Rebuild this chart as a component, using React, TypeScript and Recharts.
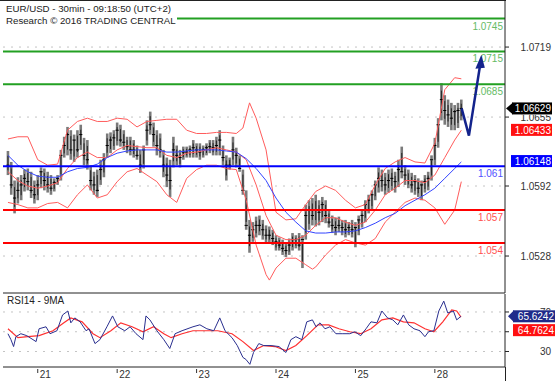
import React from "react";
import { ComposedChart, Bar, Line, XAxis, YAxis, CartesianGrid, ReferenceLine } from "recharts";

const FONT = '"Liberation Sans", Arial, sans-serif';

// hourly bars, index 0 = afternoon of the 20th
const highs = [
  1.0624, 1.0614, 1.0597, 1.06, 1.0602, 1.0607, 1.0608, 1.0605, 1.0597, 1.0602,
  1.0609, 1.0608, 1.0605, 1.0602, 1.0599, 1.0602, 1.0625, 1.0637, 1.0646, 1.0643,
  1.0639, 1.0643, 1.0648, 1.0636, 1.0634, 1.0611, 1.0605, 1.0607, 1.0616, 1.0622,
  1.064, 1.0641, 1.0643, 1.065, 1.0648, 1.0643, 1.0637, 1.0637, 1.0634, 1.0629,
  1.0625, 1.0629, 1.0652, 1.066, 1.065, 1.0643, 1.064, 1.0625, 1.0618, 1.0616,
  1.0637, 1.0629, 1.0625, 1.0628, 1.0628, 1.0629, 1.0634, 1.0631, 1.0631, 1.0629,
  1.0631, 1.0634, 1.0634, 1.0637, 1.0643, 1.0629, 1.062, 1.0618, 1.0637, 1.0627,
  1.062, 1.0607, 1.0588, 1.0561, 1.0559, 1.0564, 1.0565, 1.0561, 1.0556, 1.0555,
  1.0552, 1.0547, 1.0545, 1.0543, 1.054, 1.0544, 1.0549, 1.0547, 1.0549, 1.0547,
  1.0575, 1.0579, 1.0581, 1.0584, 1.0579, 1.0582, 1.0579, 1.057, 1.0565, 1.0563,
  1.0564, 1.0561, 1.0561, 1.0559, 1.0561, 1.0559, 1.0565, 1.057, 1.0579, 1.0584,
  1.0588, 1.0597, 1.0609, 1.0607, 1.0604, 1.0607, 1.0608, 1.0605, 1.0616, 1.0628,
  1.0611, 1.0607, 1.0604, 1.0602, 1.0599, 1.0597, 1.0602, 1.0605, 1.062, 1.0636,
  1.0654, 1.0686, 1.0675, 1.0671, 1.0668, 1.0666, 1.0668, 1.0671,
];
const lows = [
  1.0602, 1.0584, 1.0567, 1.0576, 1.0579, 1.0587, 1.0588, 1.0581, 1.0576, 1.0579,
  1.059, 1.0588, 1.0586, 1.0584, 1.0587, 1.0593, 1.0597, 1.0618, 1.062, 1.0616,
  1.0614, 1.0618, 1.0625, 1.0611, 1.0607, 1.0588, 1.0584, 1.0582, 1.0593, 1.06,
  1.0618, 1.0622, 1.0625, 1.0629, 1.0628, 1.0625, 1.0622, 1.062, 1.0618, 1.0616,
  1.0604, 1.0608, 1.0629, 1.0639, 1.0628, 1.062, 1.0618, 1.06, 1.0591, 1.0582,
  1.0609, 1.0611, 1.0609, 1.0616, 1.0618, 1.0618, 1.0618, 1.0618, 1.0616, 1.0618,
  1.062, 1.0622, 1.062, 1.062, 1.062, 1.0611, 1.0597, 1.0607, 1.0611, 1.0609,
  1.0605, 1.0584, 1.0552, 1.0531, 1.0541, 1.0545, 1.0547, 1.0543, 1.054, 1.054,
  1.0538, 1.0533, 1.0533, 1.0529, 1.0527, 1.0529, 1.0533, 1.0535, 1.0533, 1.0517,
  1.0543, 1.0552, 1.0556, 1.0555, 1.0556, 1.0559, 1.0558, 1.0554, 1.0549, 1.0547,
  1.055, 1.0547, 1.0545, 1.0547, 1.0545, 1.0536, 1.0547, 1.0554, 1.0559, 1.0567,
  1.057, 1.0579, 1.0586, 1.0587, 1.0584, 1.0586, 1.0588, 1.0586, 1.0591, 1.0599,
  1.0593, 1.059, 1.0586, 1.0584, 1.0582, 1.0579, 1.0586, 1.0588, 1.0597, 1.0611,
  1.0627, 1.0652, 1.0648, 1.0646, 1.0643, 1.0643, 1.0645, 1.0652,
];
const closes = [
  1.0611, 1.0593, 1.0581, 1.0588, 1.0593, 1.0599, 1.0596, 1.0588, 1.0584, 1.0593,
  1.0605, 1.0597, 1.0593, 1.059, 1.0595, 1.0599, 1.062, 1.0629, 1.0639, 1.0625,
  1.0634, 1.0625, 1.0639, 1.062, 1.0616, 1.0597, 1.0593, 1.0588, 1.0607, 1.0616,
  1.0629, 1.0634, 1.0636, 1.0643, 1.0634, 1.0632, 1.0628, 1.0625, 1.0625, 1.062,
  1.0611, 1.0625, 1.0643, 1.0648, 1.0639, 1.0629, 1.0625, 1.0611, 1.0602, 1.0597,
  1.0625, 1.062, 1.0618, 1.0623, 1.0623, 1.0625, 1.0627, 1.0625, 1.0623, 1.0625,
  1.0627, 1.0628, 1.0627, 1.0629, 1.0634, 1.0618, 1.0611, 1.0611, 1.0625, 1.062,
  1.0608, 1.0588, 1.0556, 1.0547, 1.0552, 1.0556, 1.0556, 1.0552, 1.0547, 1.0547,
  1.0544, 1.0541, 1.0538, 1.0535, 1.0533, 1.0538, 1.0543, 1.0543, 1.0538, 1.0543,
  1.0565, 1.057, 1.0565, 1.057, 1.0568, 1.0575, 1.0565, 1.0559, 1.0556, 1.0554,
  1.0556, 1.0554, 1.0552, 1.0554, 1.0552, 1.0554, 1.0561, 1.0565, 1.0575, 1.0579,
  1.0584, 1.0593, 1.0599, 1.0597, 1.0593, 1.0597, 1.0599, 1.0596, 1.0607, 1.0605,
  1.0602, 1.0597, 1.0593, 1.0596, 1.059, 1.0593, 1.0596, 1.0599, 1.0616, 1.0629,
  1.0648, 1.0671, 1.0661, 1.0657, 1.0654, 1.066, 1.0661, 1.06629,
];

const dayTicks = [9, 33, 57, 81, 105, 129];
const dayLabels = ["21", "22", "23", "24", "25", "28"];

const priceTicks = [1.0719, 1.0655, 1.0592, 1.0528];
const resistances = [1.0745, 1.0715, 1.0685];
const pivot = 1.061;
const supports = [1.057, 1.054];

// Bollinger bands and moving average, [bar index, price]
const upperBand: [number, number][] = [
  [0, 1.0635], [3, 1.0637], [6, 1.0637], [9, 1.0616], [12, 1.0611], [15, 1.0612], [18, 1.0643],
  [21, 1.0651], [24, 1.0654], [27, 1.0651], [30, 1.0651], [33, 1.0654], [36, 1.0653], [39, 1.0646],
  [42, 1.0651], [45, 1.0652], [48, 1.0653], [51, 1.0653], [54, 1.0643], [57, 1.064], [60, 1.064],
  [63, 1.0641], [66, 1.0641], [69, 1.064], [71, 1.0645], [73, 1.0668], [75, 1.0654], [78, 1.0625],
  [81, 1.0568], [84, 1.0561], [87, 1.0562], [90, 1.0575], [93, 1.0587], [96, 1.0592], [99, 1.0588],
  [102, 1.0579], [105, 1.0572], [108, 1.0575], [111, 1.0593], [114, 1.0608], [117, 1.0614],
  [120, 1.0618], [123, 1.0614], [126, 1.0613], [129, 1.0631], [132, 1.068], [135, 1.0691], [137, 1.069],
];
const midBand: [number, number][] = [
  [0, 1.0605], [3, 1.0597], [6, 1.0592], [9, 1.059], [12, 1.0592], [15, 1.0595], [18, 1.0608],
  [21, 1.0618], [24, 1.0623], [27, 1.0618], [30, 1.0618], [33, 1.0625], [36, 1.0629], [39, 1.0628],
  [42, 1.0627], [45, 1.0627], [48, 1.062], [51, 1.0618], [54, 1.0622], [57, 1.0623], [60, 1.0625],
  [63, 1.0627], [66, 1.0625], [69, 1.0623], [72, 1.0616], [75, 1.0593], [78, 1.0565], [81, 1.0547],
  [84, 1.0543], [87, 1.0543], [90, 1.0547], [93, 1.0556], [96, 1.0563], [99, 1.0563], [102, 1.0559],
  [105, 1.0556], [108, 1.0559], [111, 1.057], [114, 1.0584], [117, 1.059], [120, 1.0597],
  [123, 1.0597], [126, 1.0595], [129, 1.0602], [132, 1.0618], [135, 1.0634], [137, 1.0643],
];
const lowerBand: [number, number][] = [
  [0, 1.0577], [3, 1.0575], [6, 1.0572], [9, 1.0572], [12, 1.0576], [15, 1.0577], [18, 1.0572],
  [21, 1.0584], [24, 1.0593], [27, 1.0581], [30, 1.0584], [33, 1.0596], [36, 1.0605], [39, 1.0608],
  [42, 1.0602], [45, 1.0596], [48, 1.0584], [51, 1.0577], [54, 1.0599], [57, 1.0607], [60, 1.0611],
  [63, 1.0611], [66, 1.0608], [69, 1.0607], [72, 1.0579], [75, 1.0538], [78, 1.0511], [79, 1.0506],
  [81, 1.0517], [84, 1.0526], [87, 1.0526], [90, 1.052], [92, 1.0516], [93, 1.0518], [96, 1.0529],
  [99, 1.0538], [102, 1.0543], [105, 1.054], [108, 1.0538], [111, 1.0544], [114, 1.0559],
  [117, 1.0568], [120, 1.0577], [123, 1.0581], [126, 1.0579], [129, 1.0572], [132, 1.0557],
  [135, 1.057], [137, 1.0596],
];
const blueMa: [number, number][] = [
  [0, 1.062], [3, 1.0611], [6, 1.0605], [9, 1.0601], [12, 1.06], [15, 1.06], [18, 1.0605],
  [21, 1.0608], [24, 1.0609], [27, 1.0612], [30, 1.0618], [33, 1.0622], [36, 1.0624], [39, 1.0625],
  [42, 1.0625], [45, 1.0625], [48, 1.0623], [51, 1.0623], [54, 1.0624], [57, 1.0625], [60, 1.0625],
  [63, 1.0625], [66, 1.0624], [69, 1.0623], [72, 1.0617], [75, 1.0608], [78, 1.0597], [81, 1.0581],
  [84, 1.0568], [87, 1.0559], [90, 1.0551], [93, 1.0549], [96, 1.0549], [99, 1.055], [102, 1.055],
  [105, 1.0551], [108, 1.0554], [111, 1.0558], [114, 1.0563], [117, 1.0567], [120, 1.0574],
  [123, 1.0579], [126, 1.0584], [129, 1.059], [132, 1.0599], [135, 1.0608], [137, 1.0614],
];

const forecast: [number, number][] = [[137.1, 1.0663], [139.3, 1.0638], [142.6, 1.0701]];

const lastPrice = 1.06629;
const bbMidLast = 1.06433;
const maLast = 1.06148;

// RSI(14) and its 9-period average
const rsi14: [number, number][] = [
  [0, 48], [0.9, 42], [1.7, 35], [2.4, 45], [3.9, 48], [5.7, 46], [8.5, 40], [9.4, 53], [11.5, 55],
  [12.7, 48], [14.8, 51], [16.5, 67], [18.1, 71], [19, 59], [20.2, 64], [21.8, 60], [23.6, 51],
  [24.5, 53], [26.3, 38], [27.8, 42], [29.9, 55], [31.6, 66], [33.2, 55], [35.3, 51], [36.9, 55],
  [38.7, 48], [40.8, 42], [41.7, 66], [42.9, 62], [45, 51], [47.1, 42], [48.9, 33], [50.5, 48],
  [52.6, 51], [55.9, 55], [58, 57], [60.1, 53], [62.2, 51], [64, 64], [65.6, 51], [67.7, 44],
  [69.3, 36], [71, 24], [71.9, 22], [73.1, 17], [74.2, 29], [75.8, 38], [77.3, 36], [79.5, 36],
  [81.9, 35], [84, 29], [85.5, 42], [87, 45], [88.8, 42], [90.3, 60], [92, 62], [93.1, 55],
  [94.3, 59], [95.8, 53], [97.3, 55], [99.1, 48], [101.2, 48], [103.3, 48], [104.8, 50],
  [106.6, 46], [108.2, 53], [109.7, 60], [111.5, 59], [113, 71], [114.7, 64], [116.3, 62],
  [117.8, 57], [119.5, 67], [121.1, 57], [122.7, 53], [124.5, 51], [126, 45], [127.1, 50],
  [128.7, 51], [130.2, 71], [131.7, 81], [132.9, 69], [134.6, 71], [135.6, 62], [136.9, 65.6],
];
const rsiMa9: [number, number][] = [
  [0, 53], [3, 44], [6, 45], [9.4, 46], [13.6, 51], [16.9, 59], [19, 64], [22.4, 60], [25.7, 48],
  [27.8, 44], [31.1, 51], [34.1, 59], [37.5, 55], [40.8, 50], [44, 55], [47.1, 48], [49.3, 44],
  [52.6, 48], [55.9, 51], [60.1, 51], [63.4, 51], [67.7, 48], [71, 40], [74.2, 31], [77.3, 36],
  [80.7, 35], [84, 31], [87, 36], [90.3, 46], [93.7, 57], [96.9, 57], [100, 53], [103.3, 50],
  [106.6, 48], [109.7, 53], [113, 62], [116.3, 64], [119.5, 60], [122.7, 59], [126, 53],
  [128.7, 50], [131.4, 60], [134.1, 72], [135.6, 71], [136.9, 64.8],
];
const rsiTicks = [30, 50, 70];
const rsiLast = 65.6242;
const rsiMaLast = 64.7624;

const X_DOMAIN: [number, number] = [-1.5, 150.2];

const bars = highs.map((hi, i) => ({ i, hi, lo: lows[i], cl: closes[i] }));
const pts = (a: [number, number][]) => a.map(([i, v]) => ({ i, v }));

const OhlcBar = (p: any) => {
  const { x, y, width, height, payload } = p;
  if (height == null || isNaN(y)) return <g />;
  const cx = x + width / 2;
  const h = Math.max(height, 1);
  const cy = y + ((payload.hi - payload.cl) / (payload.hi - payload.lo || 1)) * h;
  return (
    <g>
      <rect x={cx - 1.3} y={y} width={2.6} height={h} fill="#7a7a7a" />
      <line x1={cx} x2={cx} y1={y + h * 0.2} y2={y + h * 0.8} stroke="#111" strokeWidth={0.8} />
      <line x1={cx - 1.6} x2={cx + 1.6} y1={cy} y2={cy} stroke="#000" strokeWidth={1} />
    </g>
  );
};

// labels that the value boxes partly cover in the original are clipped
const PriceTick = ({ x, y, payload }: any) => {
  const v = payload.value;
  const id = `pc${String(v).replace(".", "")}`;
  const covered = v === 1.0655;
  return (
    <g>
      {covered && (
        <clipPath id={id}>
          <rect x={x} y={y - 2.4} width={60} height={20} />
        </clipPath>
      )}
      <text x={x + 42} y={y + 4} textAnchor="end" fontSize={10} fill="#333" fontFamily={FONT}
        clipPath={covered ? `url(#${id})` : undefined}>
        {v.toFixed(4)}
      </text>
    </g>
  );
};

const RsiTick = ({ x, y, payload }: any) => {
  const v = payload.value;
  if (v === 50) return <g />;
  const id = `rc${v}`;
  const covered = v === 70;
  return (
    <g>
      {covered && (
        <clipPath id={id}>
          <rect x={x} y={y - 20} width={60} height={18.3} />
        </clipPath>
      )}
      <text x={x + 42} y={y + 4} textAnchor="end" fontSize={10} fill="#333" fontFamily={FONT}
        clipPath={covered ? `url(#${id})` : undefined}>
        {v}
      </text>
    </g>
  );
};

const DayTick = ({ x, y, payload }: any) => (
  <g>
    <line x1={x} x2={x} y1={y + 2} y2={y + 6} stroke="#333" />
    <text x={x + 2} y={y + 11} fontSize={10} fill="#333" fontFamily={FONT}>
      {dayLabels[dayTicks.indexOf(payload.value)]}
    </text>
  </g>
);

const levelLabel = (text: string, color: string) => (props: any) => {
  const { x, y, width } = props.viewBox;
  return (
    <text x={x + width - 2} y={y + 11} textAnchor="end" fontSize={10} fill={color} fontFamily={FONT}>
      {text}
    </text>
  );
};

const valueBox = (text: string, bg: string, pointer: boolean, dy = 0, wide = false) => (props: any) => {
  const { x, y, width } = props.viewBox;
  const r = x + width;
  const cy = y + dy;
  const left = wide ? r + 8 : pointer ? r + 7 : r + 6;
  const right = wide ? r + 50 : r + 47;
  return (
    <g>
      {pointer && <path d={`M${r + (wide ? 3 : 1)},${cy} L${left + 1},${cy - 6} L${left + 1},${cy + 6} Z`} fill={bg} />}
      <rect x={left} y={cy - 6} width={right - left} height={12} fill={bg} />
      <text x={right - 1} y={cy + 4} textAnchor="end" fontSize={10} fill="#fff" fontFamily={FONT}>
        {text}
      </text>
    </g>
  );
};

const arrowHead = (p: any) => {
  if (p.index !== forecast.length - 1) return <g key={`a${p.index}`} />;
  const { cx, cy } = p;
  return <path key="head" d={`M${cx - 4.5},${cy + 2} L${cx + 1.5},${cy - 12} L${cx + 5},${cy + 1} Z`} fill="#13238c" />;
};

export default function App() {
  return (
    <div style={{ position: "absolute", left: 0, top: 0, width: 557, height: 381, background: "#fff", fontFamily: FONT, overflow: "hidden" }}>
      <div style={{ position: "absolute", left: 0, top: 0 }}>
        <ComposedChart width={557} height={294} data={bars} margin={{ top: 1, right: 0, bottom: 0, left: 3 }}>
          <XAxis dataKey="i" type="number" domain={X_DOMAIN} allowDataOverflow height={1} tick={false} tickLine={false} axisLine={{ stroke: "#222" }} />
          <YAxis orientation="right" width={52} domain={[1.04942, 1.07611]} allowDataOverflow ticks={priceTicks} interval={0}
            tickSize={4} tickMargin={0} tickLine={{ stroke: "#222" }} axisLine={{ stroke: "#222" }} tick={<PriceTick />} />
          <CartesianGrid vertical={false} horizontalValues={priceTicks} stroke="#c4c4c4" strokeDasharray="2 6" />
          <Bar dataKey={(d: any) => [d.lo, d.hi]} barSize={3} shape={OhlcBar} isAnimationActive={false} />
          <Line data={pts(upperBand)} dataKey="v" stroke="#ff5c5c" strokeWidth={1} dot={false} isAnimationActive={false} />
          <Line data={pts(midBand)} dataKey="v" stroke="#ff5c5c" strokeWidth={1} dot={false} isAnimationActive={false} />
          <Line data={pts(lowerBand)} dataKey="v" stroke="#ff5c5c" strokeWidth={1} dot={false} isAnimationActive={false} />
          <Line data={pts(blueMa)} dataKey="v" stroke="#3344ff" strokeWidth={1} dot={false} isAnimationActive={false} />
          {resistances.map((v) => (
            <ReferenceLine key={v} y={v} stroke="#22a022" strokeWidth={2} label={levelLabel(String(v), "#66bb66")} />
          ))}
          <ReferenceLine y={pivot} stroke="#0000ff" strokeWidth={2} label={levelLabel(String(pivot), "#5050ff")} />
          {supports.map((v) => (
            <ReferenceLine key={v} y={v} stroke="#ff0000" strokeWidth={2} label={levelLabel(String(v), "#ff5050")} />
          ))}
          <Line data={pts(forecast)} dataKey="v" stroke="#13238c" strokeWidth={2.5} dot={arrowHead} isAnimationActive={false} />
          <ReferenceLine y={maLast} stroke="none" label={valueBox(maLast.toFixed(5), "#0000ff", false)} />
          <ReferenceLine y={bbMidLast} stroke="none" label={valueBox(bbMidLast.toFixed(5), "#ff1010", false)} />
          <ReferenceLine y={lastPrice} stroke="none" label={valueBox(lastPrice.toFixed(5), "#000", true)} />
        </ComposedChart>
      </div>
      <div style={{ position: "absolute", left: 0, top: 294 }}>
        <ComposedChart width={557} height={87} margin={{ top: 0, right: 0, bottom: 0, left: 3 }}>
          <XAxis dataKey="i" type="number" domain={X_DOMAIN} allowDataOverflow ticks={dayTicks} interval={0} height={14}
            tickLine={false} tickSize={0} tickMargin={0} axisLine={{ stroke: "#222" }} tick={<DayTick />} />
          <YAxis orientation="right" width={52} domain={[14.3, 88.2]} allowDataOverflow ticks={rsiTicks} interval={0}
            tickSize={4} tickMargin={0} tickLine={{ stroke: "#222" }} axisLine={{ stroke: "#222" }} tick={<RsiTick />} />
          <CartesianGrid vertical={false} horizontalValues={rsiTicks} stroke="#c4c4c4" strokeDasharray="2 6" />
          <Line data={pts(rsiMa9)} dataKey="v" stroke="#ff3030" strokeWidth={1.2} dot={false} isAnimationActive={false} />
          <Line data={pts(rsi14)} dataKey="v" stroke="#2a2f8f" strokeWidth={1} dot={false} isAnimationActive={false} />
          <ReferenceLine y={rsiLast} stroke="none" label={valueBox(rsiLast.toFixed(4), "#1f2a8a", true, 0, true)} />
          <ReferenceLine y={rsiMaLast} stroke="none" label={valueBox(rsiMaLast.toFixed(4), "#ff1010", false, 13, true)} />
        </ComposedChart>
      </div>
      <div style={{ position: "absolute", left: 0, top: 0, width: 506, height: 1, background: "#222" }} />
      <div style={{ position: "absolute", left: 505, top: 367, width: 1, height: 14, background: "#222" }} />
      <div style={{ position: "absolute", left: 3, top: 1, width: 174, height: 26, background: "#fff", fontSize: 9.7, lineHeight: "12px", color: "#222", paddingLeft: 3, paddingTop: 2, boxSizing: "border-box", whiteSpace: "nowrap" }}>
        <div>EUR/USD - 30min - 09:18:50 (UTC+2)</div>
        <div>Research © 2016 TRADING CENTRAL</div>
      </div>
      <div style={{ position: "absolute", left: 7, top: 295, fontSize: 10, color: "#222", whiteSpace: "nowrap" }}>RSI14 - 9MA</div>
    </div>
  );
}
